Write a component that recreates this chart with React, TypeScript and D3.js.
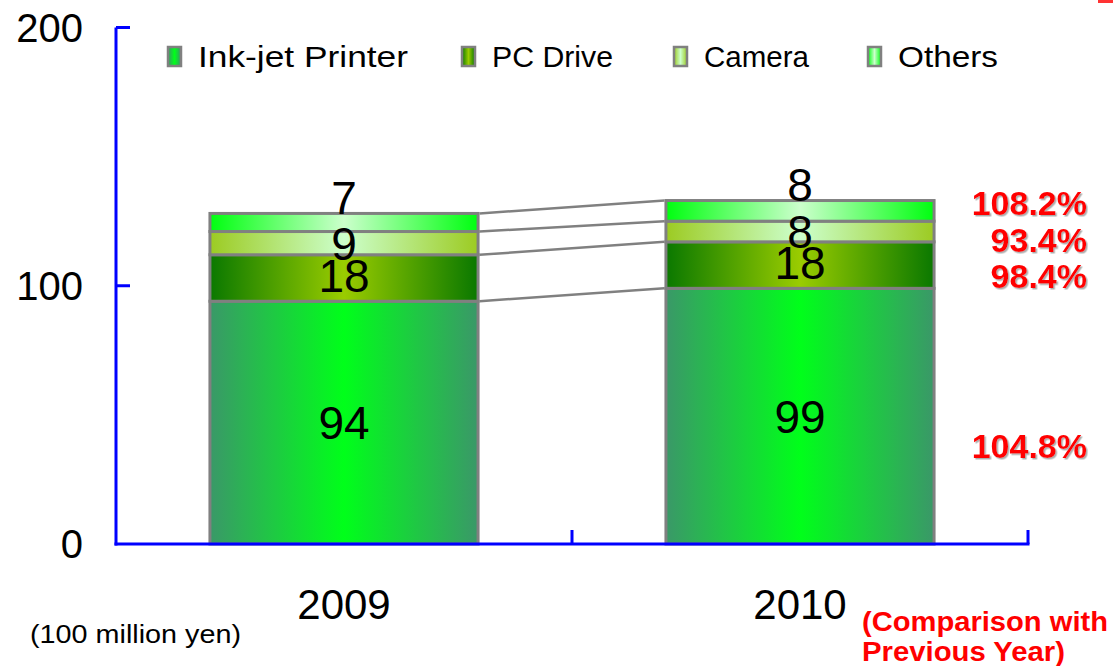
import React from "react";
import * as d3 from "d3";

// ---- data ----
const YEARS = ["2009", "2010"];
const SERIES = ["Ink-jet Printer", "PC Drive", "Camera", "Others"];
const INKJET = [94, 99];
const PC_DRIVE = [18, 18];
const CAMERA = [9, 8];
const OTHERS = [7, 8];
const YOY_2010 = ["104.8%", "98.4%", "93.4%", "108.2%"]; // per series, vs previous year
const Y_TICKS = [0, 100, 200];

// ---- layout / style ----
const W = 1113;
const H = 666;
const M = { left: 116, right: 1028, top: 27.5, bottom: 544 };
const BLUE = "#0000ff";
const GRAY = "#808080";
const GRADS = [
  { id: "g-ink", edge: "#3a9868", mid: "#00ff1a" },
  { id: "g-pc", edge: "#0a7800", mid: "#9acc00" },
  { id: "g-cam", edge: "#9ccb22", mid: "#ccffcc" },
  { id: "g-oth", edge: "#00ff10", mid: "#ccffcc" },
];
const LEGEND_X = [168, 462, 674, 868];
const LEGEND_TEXT_W = [210, 121, 105, 100];
const PCT_DY = [30, 11, 8.5, -8];
const FONT = "'Liberation Sans', Arial, sans-serif";

export default function App() {
  const values = [INKJET, PC_DRIVE, CAMERA, OTHERS];
  const stacked = YEARS.map((_, yi) => {
    let acc = 0;
    return values.map((v) => {
      const y0 = acc;
      acc += v[yi];
      return { y0, y1: acc, v: v[yi] };
    });
  });

  const x = d3.scaleBand<string>().domain(YEARS).range([M.left, M.right]).padding(0);
  const y = d3.scaleLinear().domain([0, 200]).range([M.bottom, M.top]);
  const barW = x.bandwidth() * 0.588;
  const barX = (yr: string) => (x(yr) as number) + x.bandwidth() / 2 - barW / 2;

  const x0r = barX(YEARS[0]) + barW;
  const x1l = barX(YEARS[1]);

  return (
    <svg
      width={W}
      height={H}
      style={{ position: "absolute", left: 0, top: 0, background: "#fff" }}
      fontFamily={FONT}
    >
      <defs>
        {GRADS.map((g) => (
          <linearGradient key={g.id} id={g.id} x1="0" x2="1" y1="0" y2="0">
            <stop offset="0" stopColor={g.edge} />
            <stop offset="0.5" stopColor={g.mid} />
            <stop offset="1" stopColor={g.edge} />
          </linearGradient>
        ))}
        <filter id="shadow" x="-10%" y="-10%" width="130%" height="140%">
          <feDropShadow dx="1.5" dy="1.5" stdDeviation="0.6" floodColor="#999" floodOpacity="0.8" />
        </filter>
      </defs>

      {/* bars */}
      {YEARS.map((yr, yi) => (
        <g key={yr}>
          {stacked[yi].map((s, si) => (
            <rect
              key={si}
              x={barX(yr)}
              y={y(s.y1)}
              width={barW}
              height={y(s.y0) - y(s.y1)}
              fill={`url(#${GRADS[si].id})`}
              stroke={GRAY}
              strokeWidth={3}
            />
          ))}
        </g>
      ))}

      {/* connector lines */}
      {stacked[0].map((s, si) => (
        <line
          key={si}
          x1={x0r + 1.5}
          y1={y(s.y1)}
          x2={x1l - 1.5}
          y2={y(stacked[1][si].y1)}
          stroke={GRAY}
          strokeWidth={2.5}
        />
      ))}

      {/* data labels */}
      {YEARS.map((yr, yi) =>
        stacked[yi].map((s, si) => {
          const cx = (x(yr) as number) + x.bandwidth() / 2;
          const cy = si === SERIES.length - 1 ? y(s.y1) - 16 : (y(s.y0) + y(s.y1)) / 2 - (si === 1 ? 3 : 0);
          return (
            <text key={`${yr}-${si}`} x={cx} y={cy} dy="0.36em" textAnchor="middle" fontSize={46} fill="#000">
              {s.v}
            </text>
          );
        })
      )}

      {/* axes */}
      <line x1={M.left} y1={M.top} x2={M.left} y2={M.bottom + 1.5} stroke={BLUE} strokeWidth={3} />
      <line x1={M.left - 1.5} y1={M.bottom} x2={M.right + 1.5} y2={M.bottom} stroke={BLUE} strokeWidth={3} />
      {Y_TICKS.filter((t) => t !== 0).map((t) => (
        <line key={t} x1={M.left} x2={M.left + 14} y1={y(t)} y2={y(t)} stroke={BLUE} strokeWidth={3} />
      ))}
      {YEARS.map((yr) => (
        <line
          key={yr}
          x1={(x(yr) as number) + x.bandwidth()}
          x2={(x(yr) as number) + x.bandwidth()}
          y1={M.bottom}
          y2={M.bottom - 14}
          stroke={BLUE}
          strokeWidth={3}
        />
      ))}
      {Y_TICKS.map((t) => (
        <text key={t} x={83} y={y(t)} dy="0.36em" textAnchor="end" fontSize={40} fill="#000">
          {t}
        </text>
      ))}
      {YEARS.map((yr) => (
        <text
          key={yr}
          x={(x(yr) as number) + x.bandwidth() / 2}
          y={604}
          dy="0.36em"
          textAnchor="middle"
          fontSize={42}
          fill="#000"
        >
          {yr}
        </text>
      ))}

      {/* legend */}
      {SERIES.map((name, i) => (
        <g key={name}>
          <rect x={LEGEND_X[i]} y={47} width={13} height={19} fill={`url(#${GRADS[i].id})`} stroke={GRAY} strokeWidth={2.5} />
          <text
            x={LEGEND_X[i] + 30}
            y={57}
            dy="0.36em"
            fontSize={29}
            fill="#000"
            textLength={LEGEND_TEXT_W[i]}
            lengthAdjust="spacingAndGlyphs"
          >
            {name}
          </text>
        </g>
      ))}

      {/* year-on-year percentages */}
      {stacked[1].map((s, si) => (
        <text
          key={si}
          x={1087}
          y={(y(s.y0) + y(s.y1)) / 2 + PCT_DY[si]}
          dy="0.36em"
          textAnchor="end"
          fontSize={34}
          fontWeight="bold"
          fill="#ff0000"
          filter="url(#shadow)"
        >
          {YOY_2010[si]}
        </text>
      ))}

      <text x={30} y={634} dy="0.36em" fontSize={26} fill="#000" textLength={211} lengthAdjust="spacingAndGlyphs">
        (100 million yen)
      </text>
      <text x={862} y={621} dy="0.36em" fontSize={27} fontWeight="bold" fill="#ff0000" textLength={246} lengthAdjust="spacingAndGlyphs">
        (Comparison with
      </text>
      <text x={862} y={651} dy="0.36em" fontSize={27} fontWeight="bold" fill="#ff0000" textLength={203} lengthAdjust="spacingAndGlyphs">
        Previous Year)
      </text>

      {/* cropped red mark at top-right edge */}
      <rect x={1098} y={0} width={15} height={3} fill="#ff3333" />
    </svg>
  );
}
